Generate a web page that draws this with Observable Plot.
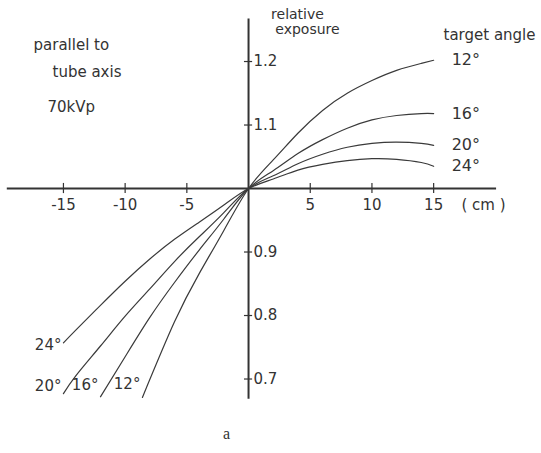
<!DOCTYPE html>
<html>
<head>
<meta charset="utf-8">
<script src="https://cdn.jsdelivr.net/npm/d3@7"></script>
<script src="https://cdn.jsdelivr.net/npm/@observablehq/plot@0.6"></script>
<style>
  html, body { margin: 0; padding: 0; background: #fff; }
  #chart svg { display: block; }
</style>
</head>
<body>
<div id="chart"></div>
<script>
// ---- data ----
const angles = ["12°", "16°", "20°", "24°"];

const x12 = [-8.6, -6, -4, -2, 0, 2, 4, 6, 8, 10, 12, 14, 15];
const y12 = [0.671, 0.790, 0.866, 0.934, 1.0, 1.045, 1.087, 1.123, 1.150, 1.170, 1.186, 1.197, 1.202];

const x16 = [-12, -10, -8, -6, -4, -2, 0, 2, 4, 6, 8, 10, 12, 14, 15];
const y16 = [0.672, 0.735, 0.797, 0.852, 0.903, 0.952, 1.0, 1.028, 1.055, 1.077, 1.095, 1.108, 1.115, 1.118, 1.118];

const x20 = [-15, -14, -12, -10, -8, -6, -4, -2, 0, 2, 4, 6, 8, 10, 12, 14, 15];
const y20 = [0.677, 0.705, 0.752, 0.799, 0.842, 0.885, 0.924, 0.962, 1.0, 1.020, 1.039, 1.054, 1.065, 1.071, 1.073, 1.071, 1.068];

const x24 = [-15, -14, -12, -10, -8, -6, -4, -2, 0, 2, 4, 6, 8, 10, 12, 14, 15];
const y24 = [0.757, 0.777, 0.816, 0.854, 0.889, 0.920, 0.947, 0.974, 1.0, 1.015, 1.029, 1.038, 1.044, 1.047, 1.046, 1.041, 1.035];

const xTicks = [-15, -10, -5, 5, 10, 15];
const xTickLabels = ["-15", "-10", "-5", "5", "10", "15"];
const yTicks = [0.7, 0.8, 0.9, 1.1, 1.2];
const yTickLabels = ["0.7", "0.8", "0.9", "1.1", "1.2"];

const xAxisExtent = [-19.55, 20.1];
const yAxisExtent = [0.668, 1.267];

// ---- build long table ----
const seriesX = [x12, x16, x20, x24];
const seriesY = [y12, y16, y20, y24];
const data = angles.flatMap((a, i) => seriesX[i].map((x, j) => ({angle: a, x, y: seriesY[i][j]})));
const ends = angles.map((a, i) => ({angle: a, x: seriesX[i][seriesX[i].length - 1], y: seriesY[i][seriesY[i].length - 1]}));
const starts = angles.map((a, i) => ({angle: a, x: seriesX[i][0], y: seriesY[i][0]}));

const ink = "#333";
const font = "DejaVu Sans, sans-serif";
const leftDy = {"12°": -13, "16°": -12, "20°": -7, "24°": 2};

const ann = (txt, dx, dy, anchor = "start", size = 15) =>
  Plot.text([txt], {frameAnchor: "top-left", dx, dy, textAnchor: anchor, lineAnchor: "middle",
    fontSize: size, fill: ink, fontFamily: font});

const chart = Plot.plot({
  width: 541,
  height: 453,
  margin: 0,
  x: {domain: [-20.10, 23.74], axis: null},
  y: {domain: [0.5827, 1.2961], axis: null},
  style: {fontFamily: font, background: "#fff"},
  marks: [
    // axes
    Plot.ruleY([1], {x1: xAxisExtent[0], x2: xAxisExtent[1], stroke: ink, strokeWidth: 2}),
    Plot.ruleX([0], {y1: yAxisExtent[0], y2: yAxisExtent[1], stroke: ink, strokeWidth: 2}),
    Plot.ruleX(xTicks, {y1: 0.992, y2: 1.008, stroke: ink, strokeWidth: 1.2}),
    Plot.ruleY(yTicks, {x1: -0.33, x2: 0.33, stroke: ink, strokeWidth: 1.2}),
    Plot.text(xTicks, {x: d => d, y: 1, dy: 17, text: (d, i) => xTickLabels[i], fontSize: 15, fill: ink, textAnchor: "middle"}),
    Plot.text(yTicks, {x: 0, y: d => d, dx: 5, text: (d, i) => yTickLabels[i], fontSize: 15, fill: ink, textAnchor: "start"}),
    // curves
    Plot.line(data, {x: "x", y: "y", z: "angle", curve: "natural", stroke: "#3a3a3a", strokeWidth: 1.2}),
    // right labels
    Plot.text(ends, {x: "x", y: "y", text: "angle", dx: 18, textAnchor: "start", fontSize: 16, fill: ink}),
    // left labels
    ...angles.map(a => Plot.text(starts.filter(d => d.angle === a), {x: "x", y: "y", text: "angle", dx: -2, dy: leftDy[a], textAnchor: "end", fontSize: 15, fill: ink})),
    // annotations
    ann("parallel to", 33, 45),
    ann("tube axis", 52, 72),
    ann("70kVp", 47, 107),
    ann("relative", 297, 14, "middle", 14),
    ann("exposure", 307, 29, "middle", 14),
    ann("target angle", 489, 35, "middle"),
    ann("( cm )", 483, 205, "middle"),
    Plot.text(["a"], {frameAnchor: "top-left", dx: 226, dy: 433, textAnchor: "middle", lineAnchor: "middle", fontSize: 16, fill: ink, fontFamily: "Liberation Serif, serif"})
  ]
});
document.getElementById("chart").appendChild(chart);
</script>
</body>
</html>
